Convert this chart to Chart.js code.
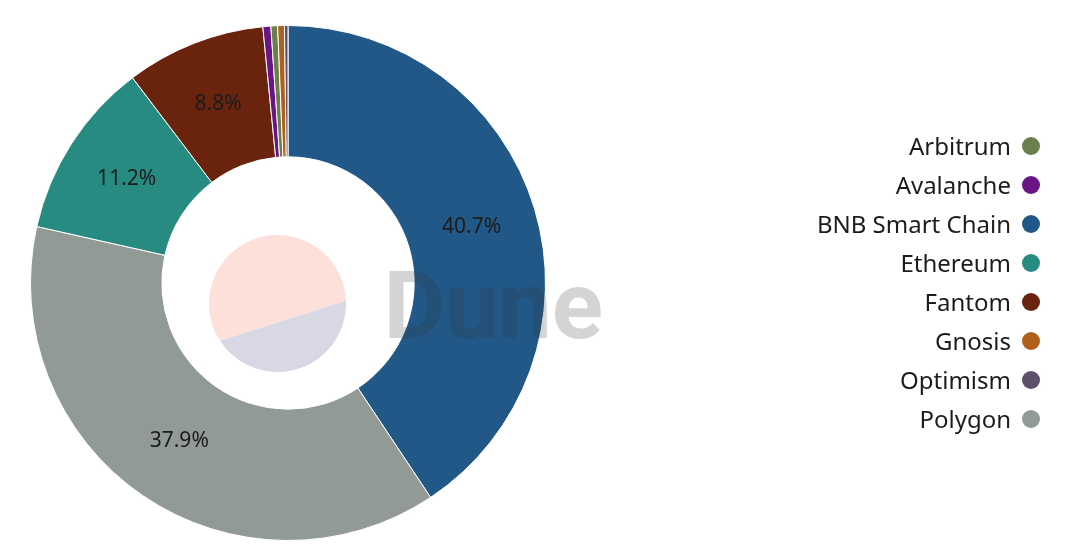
<!doctype html>
<html>
<head>
<meta charset="utf-8">
<script src="https://cdn.jsdelivr.net/npm/chart.js@4.4.1/dist/chart.umd.min.js"></script>
<style>
  html, body { margin: 0; padding: 0; background: #fff; }
  #wrap { position: relative; width: 1076px; height: 560px; overflow: hidden; }
  #chart { position: absolute; left: 0; top: 0; }
  #legend {
    position: absolute; right: 36px; top: 126px;
    font-family: "Noto Sans", sans-serif; font-size: 24px; color: #1c1c1c;
  }
  .item { display: flex; justify-content: flex-end; align-items: center; height: 39px; white-space: nowrap; }
  .dot { width: 18px; height: 18px; border-radius: 50%; margin-left: 11px; flex: none; }
</style>
</head>
<body>
<div id="wrap">
  <canvas id="chart" width="1076" height="560"></canvas>
  <div id="legend"></div>
</div>
<script>
// Slice order as drawn (clockwise from 12 o'clock), share of total in %.
const chains = ["BNB Smart Chain", "Polygon", "Ethereum", "Fantom", "Avalanche", "Arbitrum", "Gnosis", "Optimism"];
const shares = [40.66, 37.86, 11.16, 8.76, 0.50, 0.42, 0.42, 0.22];
const colors = ["#215887", "#929a96", "#278b81", "#6a240e", "#6a1585", "#6a7f4a", "#b0601c", "#5e5068"];

const FONT = '"Noto Sans", sans-serif';

// Percent labels in the middle of the bigger slices.
const sliceLabels = {
  id: "sliceLabels",
  afterDatasetsDraw(chart) {
    const { ctx } = chart;
    const meta = chart.getDatasetMeta(0);
    const data = chart.data.datasets[0].data;
    const total = data.reduce((a, b) => a + b, 0) || 1;
    ctx.save();
    ctx.font = `21px ${FONT}`;
    ctx.fillStyle = "#1c1c1c";
    ctx.textAlign = "center";
    ctx.textBaseline = "middle";
    meta.data.forEach((arc, i) => {
      const pct = (data[i] / total) * 100;
      if (pct < 5) return;
      const p = arc.tooltipPosition();
      ctx.fillText(pct.toFixed(1) + "%", p.x, p.y);
    });
    ctx.restore();
  },
};

// Dune logo + wordmark, drawn over the chart like the original watermark.
const watermark = {
  id: "watermark",
  afterDraw(chart) {
    const { ctx, chartArea: a } = chart;
    const cx = (a.left + a.right) / 2 - 10.5;
    const cy = (a.top + a.bottom) / 2 + 20.5;
    const r = 68.5;
    const a0 = -2.3 * Math.PI / 180, a1 = 147 * Math.PI / 180;
    ctx.save();
    ctx.beginPath();
    ctx.arc(cx, cy, r, a1, a0 + Math.PI * 2);
    ctx.closePath();
    ctx.fillStyle = "#fde0da";
    ctx.fill();
    ctx.beginPath();
    ctx.arc(cx, cy, r, a0, a1);
    ctx.closePath();
    ctx.fillStyle = "#d8d7e4";
    ctx.fill();
    ctx.font = `bold 95px Roboto, ${FONT}`;
    ctx.fillStyle = "rgba(50,50,50,0.21)";
    ctx.textAlign = "left";
    ctx.textBaseline = "alphabetic";
    ctx.fillText("Dune", cx + 106, cy + 34);
    ctx.restore();
  },
};

new Chart(document.getElementById("chart"), {
  type: "doughnut",
  data: {
    labels: chains,
    datasets: [{
      data: shares,
      backgroundColor: colors,
      borderColor: "#ffffff",
      borderWidth: 1,
    }],
  },
  options: {
    responsive: false,
    animation: false,
    cutout: "49%",
    layout: { padding: { left: 0, right: 500, top: 25, bottom: 19 } },
    plugins: {
      legend: { display: false },
      tooltip: { enabled: false },
    },
  },
  plugins: [sliceLabels, watermark],
});

// Legend on the right, alphabetical like the original.
const legend = document.getElementById("legend");
chains
  .map((name, i) => ({ name, color: colors[i] }))
  .sort((x, y) => x.name.localeCompare(y.name))
  .forEach(({ name, color }) => {
    const row = document.createElement("div");
    row.className = "item";
    const label = document.createElement("span");
    label.textContent = name;
    const dot = document.createElement("span");
    dot.className = "dot";
    dot.style.background = color;
    row.append(label, dot);
    legend.appendChild(row);
  });
</script>
</body>
</html>
